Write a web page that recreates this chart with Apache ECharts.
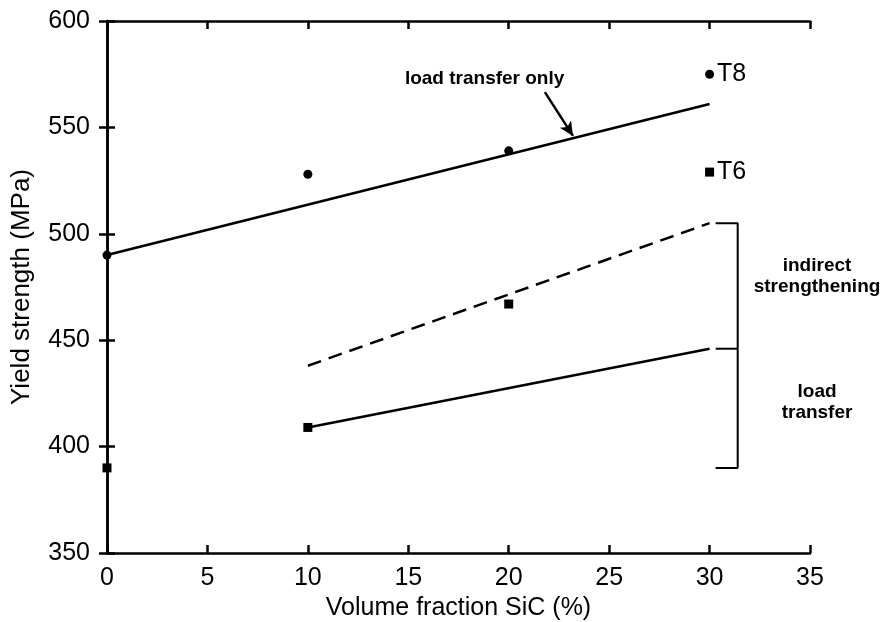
<!DOCTYPE html>
<html><head><meta charset="utf-8">
<script src="https://cdn.jsdelivr.net/npm/echarts@6/dist/echarts.min.js"></script>
<style>html,body{margin:0;padding:0;background:#fff}#c{width:883px;height:622px}</style>
</head><body><div id="c"></div>
<script>
// Data
const t8Points = [[0, 490], [10, 528], [20, 539], [30, 575]];
const t6Points = [[0, 390], [10, 409], [20, 467], [30, 529]];
const loadTransferOnlyLine = [[0, 490], [30, 561]];
const indirectLine = [[10, 438], [30, 505]];
const loadTransferLine = [[10, 409], [30, 446]];
const bracketOuter = [[30.3, 505], [31.4, 505], [31.4, 390], [30.3, 390]];
const bracketMid = [[30.3, 446], [31.4, 446]];
const arrowFrom = [21.8, 566.6];
const arrowTo = [23.2, 546];
const annotations = [
  { name: 'load transfer only', value: [18.8, 572.7] },
  { name: 'indirect\nstrengthening', value: [35.35, 480] },
  { name: 'load\ntransfer', value: [35.35, 420.8] }
];
const xTicks = { min: 0, max: 35, interval: 5 };
const yTicks = { min: 350, max: 600, interval: 50 };

const FONT = '"Liberation Sans", Arial, Helvetica, sans-serif';
const axisLine = { lineStyle: { color: '#000', width: 2.5 } };
const axisTick = { inside: true, length: 8, lineStyle: { color: '#000', width: 2.5 } };

const chart = echarts.init(document.getElementById('c'), null, { renderer: 'canvas' });
chart.setOption({
  animation: false,
  backgroundColor: '#fff',
  grid: { left: 107, right: 73, top: 21, bottom: 69, containLabel: false, outerBoundsMode: 'none' },
  xAxis: [
    { type: 'value', position: 'bottom', min: xTicks.min, max: xTicks.max, interval: xTicks.interval,
      name: 'Volume fraction SiC (%)', nameLocation: 'middle', nameGap: 43,
      nameTextStyle: { fontFamily: FONT, fontSize: 25, color: '#000' },
      axisLine, axisTick, splitLine: { show: false },
      axisLabel: { fontFamily: FONT, fontSize: 25, color: '#000', margin: 13 } },
    { type: 'value', position: 'top', min: xTicks.min, max: xTicks.max, interval: xTicks.interval,
      axisLine, axisTick, splitLine: { show: false }, axisLabel: { show: false } }
  ],
  yAxis: [
    { type: 'value', position: 'left', min: yTicks.min, max: yTicks.max, interval: yTicks.interval,
      name: 'Yield strength (MPa)', nameLocation: 'middle', nameGap: 72,
      nameTextStyle: { fontFamily: FONT, fontSize: 26, color: '#000' },
      axisLine, axisTick, splitLine: { show: false },
      axisLabel: { fontFamily: FONT, fontSize: 25, color: '#000', margin: 17 } },
    { type: 'value', position: 'right', min: yTicks.min, max: yTicks.max, interval: yTicks.interval,
      axisLine, axisTick, splitLine: { show: false }, axisLabel: { show: false } }
  ],
  series: [
    { type: 'line', data: loadTransferOnlyLine, symbol: 'none', lineStyle: { color: '#000', width: 2.5 },
      markLine: { silent: true, symbol: ['none', 'arrow'], symbolSize: [10, 14], label: { show: false },
        lineStyle: { color: '#000', width: 2.5, type: 'solid' },
        data: [[{ coord: arrowFrom }, { coord: arrowTo }]] } },
    { type: 'line', data: indirectLine, symbol: 'none', lineStyle: { color: '#000', width: 2.5, type: [14, 8] } },
    { type: 'line', data: loadTransferLine, symbol: 'none', lineStyle: { color: '#000', width: 2.5 } },
    { type: 'line', data: bracketOuter, symbol: 'none', clip: false, lineStyle: { color: '#000', width: 2 } },
    { type: 'line', data: bracketMid, symbol: 'none', clip: false, lineStyle: { color: '#000', width: 2 } },
    { type: 'scatter', data: t8Points, symbol: 'circle', symbolSize: 9, itemStyle: { color: '#000', opacity: 1 },
      label: { show: true, position: 'right', distance: 3, fontFamily: FONT, fontSize: 25, color: '#000', opacity: 1,
        formatter: p => p.dataIndex === 3 ? 'T8' : '' } },
    { type: 'scatter', data: t6Points, symbol: 'rect', symbolSize: 9, itemStyle: { color: '#000', opacity: 1 },
      label: { show: true, position: 'right', distance: 3, fontFamily: FONT, fontSize: 25, color: '#000', opacity: 1,
        formatter: p => p.dataIndex === 3 ? 'T6' : '' } },
    { type: 'scatter', data: annotations, symbolSize: 0, clip: false, z: 10, itemStyle: { color: '#000', opacity: 1 },
      label: { show: true, position: 'inside', formatter: p => p.name, fontFamily: FONT, fontSize: 19, opacity: 1,
        fontWeight: 'bold', color: '#000', textBorderWidth: 0, lineHeight: 21, align: 'center', verticalAlign: 'middle',
        backgroundColor: '#fff', padding: [1, 0] } }
  ]
});
</script></body></html>
